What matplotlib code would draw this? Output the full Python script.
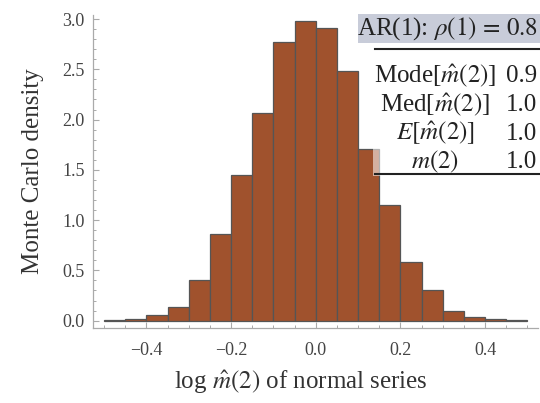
import numpy as np
import matplotlib
matplotlib.use("Agg")
import matplotlib.pyplot as plt
from matplotlib.patches import Rectangle
from matplotlib.lines import Line2D

# histogram of log m_hat(2), bins of width 0.05
bin_edges = [-0.5, -0.45, -0.4, -0.35, -0.3, -0.25, -0.2, -0.15, -0.1, -0.05, 0.0,
             0.05, 0.1, 0.15, 0.2, 0.25, 0.3, 0.35, 0.4, 0.45, 0.5]
density = [0.005, 0.015, 0.06, 0.14, 0.40, 0.86, 1.45, 2.07, 2.77, 2.98,
           2.91, 2.48, 1.71, 1.15, 0.58, 0.30, 0.10, 0.035, 0.012, 0.005]

header = r"AR(1): $\rho(1)\,=\,0.8$"
table_labels = [r"Mode[$\hat{m}(2)$]", r"Med[$\hat{m}(2)$]", r"$E[\hat{m}(2)]$", r"$m(2)$"]
table_values = ["0.9", "1.0", "1.0", "1.0"]

plt.rcParams["font.family"] = ["Liberation Serif", "DejaVu Serif"]
plt.rcParams["mathtext.fontset"] = "stix"

W, H = 540, 403
fig = plt.figure(figsize=(W / 100, H / 100), dpi=100)


def fx(x):
    return x / W


def fy(y):
    return 1 - y / H


ax = fig.add_axes([fx(93), fy(328), fx(538) - fx(93), fy(15) - fy(328)])

edges = np.array(bin_edges)
ax.bar(edges[:-1], density, width=np.diff(edges), align="edge",
       color="#a0522d", edgecolor="#555555", linewidth=0.9)

ax.set_xlim(-0.526, 0.525)
ax.set_ylim(-0.073, 3.04)
ax.set_xticks([-0.4, -0.2, 0.0, 0.2, 0.4])
ax.set_xticks(np.arange(-0.5, 0.51, 0.05), minor=True)
ax.set_yticks([0.0, 0.5, 1.0, 1.5, 2.0, 2.5, 3.0])
ax.set_yticks(np.arange(0, 3.01, 0.1), minor=True)
ax.set_xticklabels(["\u22120.4", "\u22120.2", "0.0", "0.2", "0.4"])
ax.set_yticklabels(["0.0", "0.5", "1.0", "1.5", "2.0", "2.5", "3.0"])

for s in ["top", "right"]:
    ax.spines[s].set_visible(False)
for s in ["left", "bottom"]:
    ax.spines[s].set_color("#aaaaaa")
    ax.spines[s].set_linewidth(0.9)

ax.tick_params(which="both", direction="in", color="#aaaaaa", labelcolor="#444444",
               labelsize=13)
ax.tick_params(which="major", length=4.5, width=0.8)
ax.tick_params(which="minor", length=2.5, width=0.7)
ax.tick_params(axis="x", which="major", pad=10)
ax.tick_params(axis="y", which="major", pad=6)

fig.text(fx(33), fy(171), "Monte Carlo density", rotation=90, ha="center", va="center",
         fontsize=18, color="#333333")
fig.text(fx(301), fy(389), r"log $\hat{m}(2)$ of normal series", ha="center",
         va="baseline", fontsize=18, color="#333333")

# table in the upper right
fig.patches.append(Rectangle((fx(373), fy(176)), fx(540) - fx(373), fy(50) - fy(176),
                             transform=fig.transFigure, facecolor="white", alpha=0.55,
                             edgecolor="none", zorder=3))
fig.patches.append(Rectangle((fx(358), fy(43)), fx(540) - fx(358), fy(14) - fy(43),
                             transform=fig.transFigure, facecolor="#c8ccd9",
                             edgecolor="none", zorder=3))
fig.text(fx(448), fy(35), header, ha="center", va="baseline", fontsize=18,
         color="#222222", zorder=4)
for yy in [49, 174]:
    fig.lines.append(Line2D([fx(375), fx(540)], [fy(yy), fy(yy)], transform=fig.transFigure,
                            color="#222222", linewidth=1.5, zorder=4))

row_base = [82, 111, 140, 168]
for lab, val, yb in zip(table_labels, table_values, row_base):
    fig.text(fx(435), fy(yb), lab, ha="center", va="baseline", fontsize=18,
             color="#222222", zorder=4)
    fig.text(fx(537), fy(yb), val, ha="right", va="baseline", fontsize=18,
             color="#222222", zorder=4)

fig.savefig("out.png", dpi=100)
